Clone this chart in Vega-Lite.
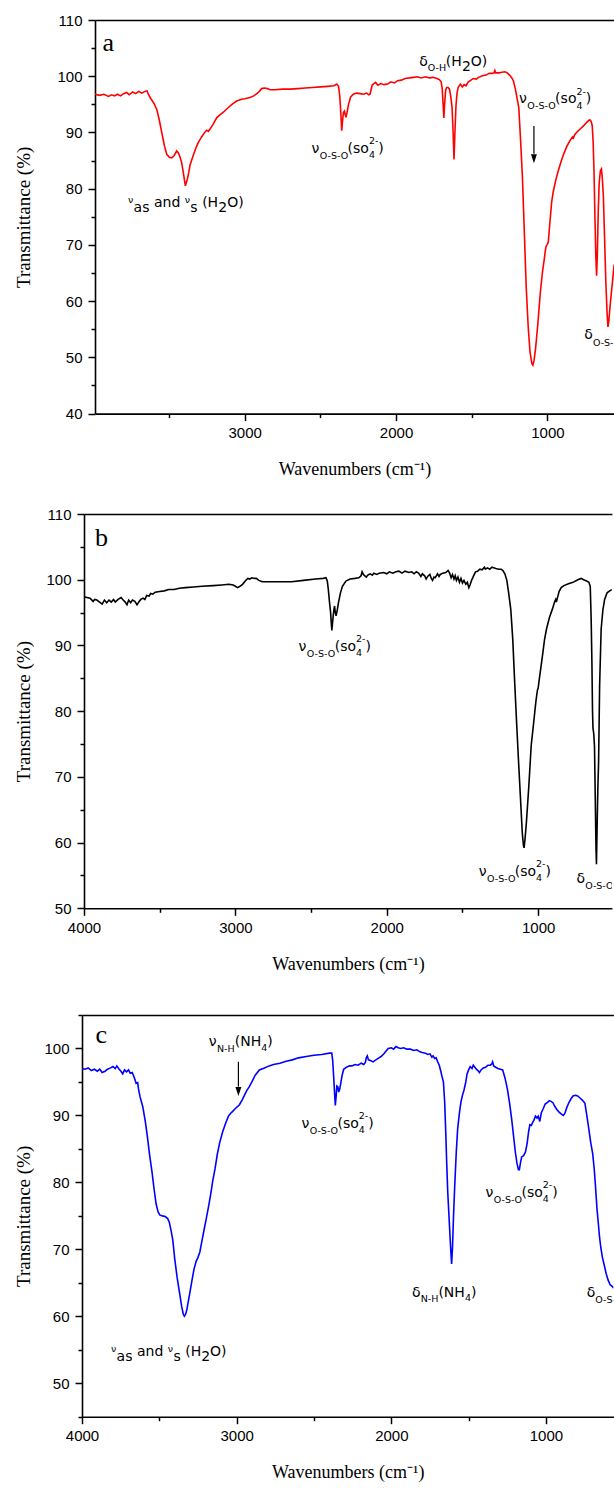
{
"$schema": "https://vega.github.io/schema/vega-lite/v6.json",
"padding": {"left": 7, "top": 13, "right": 0, "bottom": 0},
"background": "white",
"vconcat": [
{"hconcat": [
{"width": 1, "height": 1, "data": {"values": [{"z": 0}]}, "mark": {"type": "point", "opacity": 0}},
{
"width": 519, "height": 393.6,
"layer": [
{"data": {"name": "a"}, "mark": {"type": "line", "color": "#ff0000", "strokeWidth": 1.6, "clip": true},
 "encoding": {
  "x": {"field": "w", "type": "quantitative", "scale": {"domain": [560, 3989], "reverse": true, "nice": false, "zero": false},
        "axis": {"orient": "bottom", "values": [3000, 2000, 1000], "format": "d", "title": "Wavenumbers (cm⁻¹)", "tickSize": 7, "labelPadding": 5, "titlePadding": 20}},
  "y": {"field": "t", "type": "quantitative", "scale": {"domain": [40, 110], "nice": false, "zero": false},
        "axis": {"orient": "left", "values": [40, 50, 60, 70, 80, 90, 100, 110], "title": "Transmittance (%)", "tickSize": 7, "labelPadding": 6, "titlePadding": 23}}}},
{"data": {"name": "a"}, "mark": {"type": "line", "opacity": 0},
 "encoding": {
  "x": {"field": "w", "type": "quantitative", "axis": {"orient": "bottom", "values": [3500, 2500, 1500], "labels": false, "domain": false, "tickSize": 4, "title": null}},
  "y": {"field": "t", "type": "quantitative", "axis": {"orient": "left", "values": [45, 55, 65, 75, 85, 95, 105], "labels": false, "domain": false, "tickSize": 4, "title": null}}}},
{"data": {"name": "a"}, "mark": {"type": "line", "opacity": 0},
 "encoding": {
  "x": {"field": "w", "type": "quantitative", "axis": {"orient": "top", "labels": false, "ticks": false, "title": null}},
  "y": {"field": "t", "type": "quantitative", "axis": null}}},
{"data": {"name": "ann"}, "transform": [{"filter": "datum.p === 'a' && datum.k === 'b'"}],
 "mark": {"type": "text", "align": "left", "baseline": "alphabetic", "font": "DejaVu Sans", "fontSize": 14, "color": "#000000", "clip": true},
 "encoding": {"x": {"field": "w", "type": "quantitative", "axis": null}, "y": {"field": "t", "type": "quantitative", "axis": null}, "text": {"field": "s"}}},
{"data": {"name": "ann"}, "transform": [{"filter": "datum.p === 'a' && datum.k === 's'"}],
 "mark": {"type": "text", "align": "left", "baseline": "alphabetic", "font": "DejaVu Sans", "fontSize": 9.5, "color": "#000000", "clip": true},
 "encoding": {"x": {"field": "w", "type": "quantitative", "axis": null}, "y": {"field": "t", "type": "quantitative", "axis": null}, "text": {"field": "s"}}},
{"data": {"name": "ann"}, "transform": [{"filter": "datum.p === 'a' && datum.k === 'L'"}],
 "mark": {"type": "text", "align": "left", "baseline": "alphabetic", "font": "Liberation Serif", "fontSize": 26, "color": "#000000", "clip": true},
 "encoding": {"x": {"field": "w", "type": "quantitative", "axis": null}, "y": {"field": "t", "type": "quantitative", "axis": null}, "text": {"field": "s"}}},
{"data": {"name": "arrows"}, "transform": [{"filter": "datum.p === 'a'"}],
 "mark": {"type": "rule", "color": "#000000", "strokeWidth": 1.2},
 "encoding": {"x": {"field": "w", "type": "quantitative", "axis": null}, "y": {"field": "t1", "type": "quantitative", "axis": null}, "y2": {"field": "t2"}}},
{"data": {"name": "arrows"}, "transform": [{"filter": "datum.p === 'a'"}],
 "mark": {"type": "point", "shape": "M-0.66,-1L0.66,-1L0,1Z", "filled": true, "color": "#000000", "opacity": 1, "size": 81, "strokeWidth": 0},
 "encoding": {"x": {"field": "w", "type": "quantitative", "axis": null}, "y": {"field": "th", "type": "quantitative", "axis": null}}}
],
"resolve": {"axis": {"x": "independent", "y": "independent"}}
}
], "spacing": 0},
{"hconcat": [
{"width": 1, "height": 1, "data": {"values": [{"z": 0}]}, "mark": {"type": "point", "opacity": 0}},
{
"width": 527.9, "height": 394.3,
"layer": [
{"data": {"name": "b"}, "mark": {"type": "line", "color": "#000000", "strokeWidth": 1.6, "clip": true},
 "encoding": {
  "x": {"field": "w", "type": "quantitative", "scale": {"domain": [513, 4000], "reverse": true, "nice": false, "zero": false},
        "axis": {"orient": "bottom", "values": [4000, 3000, 2000, 1000], "format": "d", "title": "Wavenumbers (cm⁻¹)", "tickSize": 7, "labelPadding": 5, "titlePadding": 20}},
  "y": {"field": "t", "type": "quantitative", "scale": {"domain": [50, 110], "nice": false, "zero": false},
        "axis": {"orient": "left", "values": [50, 60, 70, 80, 90, 100, 110], "title": "Transmittance (%)", "tickSize": 7, "labelPadding": 6, "titlePadding": 12.5}}}},
{"data": {"name": "b"}, "mark": {"type": "line", "opacity": 0},
 "encoding": {
  "x": {"field": "w", "type": "quantitative", "axis": {"orient": "bottom", "values": [3500, 2500, 1500], "labels": false, "domain": false, "tickSize": 4, "title": null}},
  "y": {"field": "t", "type": "quantitative", "axis": {"orient": "left", "values": [55, 65, 75, 85, 95, 105], "labels": false, "domain": false, "tickSize": 4, "title": null}}}},
{"data": {"name": "b"}, "mark": {"type": "line", "opacity": 0},
 "encoding": {
  "x": {"field": "w", "type": "quantitative", "axis": {"orient": "top", "labels": false, "ticks": false, "title": null}},
  "y": {"field": "t", "type": "quantitative", "axis": null}}},
{"data": {"name": "ann"}, "transform": [{"filter": "datum.p === 'b' && datum.k === 'b'"}],
 "mark": {"type": "text", "align": "left", "baseline": "alphabetic", "font": "DejaVu Sans", "fontSize": 14, "color": "#000000", "clip": true},
 "encoding": {"x": {"field": "w", "type": "quantitative", "axis": null}, "y": {"field": "t", "type": "quantitative", "axis": null}, "text": {"field": "s"}}},
{"data": {"name": "ann"}, "transform": [{"filter": "datum.p === 'b' && datum.k === 's'"}],
 "mark": {"type": "text", "align": "left", "baseline": "alphabetic", "font": "DejaVu Sans", "fontSize": 9.5, "color": "#000000", "clip": true},
 "encoding": {"x": {"field": "w", "type": "quantitative", "axis": null}, "y": {"field": "t", "type": "quantitative", "axis": null}, "text": {"field": "s"}}},
{"data": {"name": "ann"}, "transform": [{"filter": "datum.p === 'b' && datum.k === 'L'"}],
 "mark": {"type": "text", "align": "left", "baseline": "alphabetic", "font": "Liberation Serif", "fontSize": 26, "color": "#000000", "clip": true},
 "encoding": {"x": {"field": "w", "type": "quantitative", "axis": null}, "y": {"field": "t", "type": "quantitative", "axis": null}, "text": {"field": "s"}}}
],
"resolve": {"axis": {"x": "independent", "y": "independent"}}
}
], "spacing": 0},
{"hconcat": [
{"width": 1, "height": 1, "data": {"values": [{"z": 0}]}, "mark": {"type": "point", "opacity": 0}},
{
"width": 531.4, "height": 401.7,
"layer": [
{"data": {"name": "c"}, "mark": {"type": "line", "color": "#0000ff", "strokeWidth": 1.6, "clip": true},
 "encoding": {
  "x": {"field": "w", "type": "quantitative", "scale": {"domain": [564, 4000], "reverse": true, "nice": false, "zero": false},
        "axis": {"orient": "bottom", "values": [4000, 3000, 2000, 1000], "format": "d", "title": "Wavenumbers (cm⁻¹)", "tickSize": 7, "labelPadding": 5, "titlePadding": 20}},
  "y": {"field": "t", "type": "quantitative", "scale": {"domain": [45, 105], "nice": false, "zero": false},
        "axis": {"orient": "left", "values": [50, 60, 70, 80, 90, 100], "title": "Transmittance (%)", "tickSize": 7, "labelPadding": 6, "titlePadding": 10.5}}}},
{"data": {"name": "c"}, "mark": {"type": "line", "opacity": 0},
 "encoding": {
  "x": {"field": "w", "type": "quantitative", "axis": {"orient": "bottom", "values": [3500, 2500, 1500], "labels": false, "domain": false, "tickSize": 4, "title": null}},
  "y": {"field": "t", "type": "quantitative", "axis": {"orient": "left", "values": [45, 55, 65, 75, 85, 95, 105], "labels": false, "domain": false, "tickSize": 4, "title": null}}}},
{"data": {"name": "c"}, "mark": {"type": "line", "opacity": 0},
 "encoding": {
  "x": {"field": "w", "type": "quantitative", "axis": {"orient": "top", "labels": false, "ticks": false, "title": ".", "titleColor": "transparent", "titleFontSize": 13, "titlePadding": 0}},
  "y": {"field": "t", "type": "quantitative", "axis": null}}},
{"data": {"name": "ann"}, "transform": [{"filter": "datum.p === 'c' && datum.k === 'b'"}],
 "mark": {"type": "text", "align": "left", "baseline": "alphabetic", "font": "DejaVu Sans", "fontSize": 14, "color": "#000000", "clip": true},
 "encoding": {"x": {"field": "w", "type": "quantitative", "axis": null}, "y": {"field": "t", "type": "quantitative", "axis": null}, "text": {"field": "s"}}},
{"data": {"name": "ann"}, "transform": [{"filter": "datum.p === 'c' && datum.k === 's'"}],
 "mark": {"type": "text", "align": "left", "baseline": "alphabetic", "font": "DejaVu Sans", "fontSize": 9.5, "color": "#000000", "clip": true},
 "encoding": {"x": {"field": "w", "type": "quantitative", "axis": null}, "y": {"field": "t", "type": "quantitative", "axis": null}, "text": {"field": "s"}}},
{"data": {"name": "ann"}, "transform": [{"filter": "datum.p === 'c' && datum.k === 'L'"}],
 "mark": {"type": "text", "align": "left", "baseline": "alphabetic", "font": "Liberation Serif", "fontSize": 26, "color": "#000000", "clip": true},
 "encoding": {"x": {"field": "w", "type": "quantitative", "axis": null}, "y": {"field": "t", "type": "quantitative", "axis": null}, "text": {"field": "s"}}},
{"data": {"name": "arrows"}, "transform": [{"filter": "datum.p === 'c'"}],
 "mark": {"type": "rule", "color": "#000000", "strokeWidth": 1.2},
 "encoding": {"x": {"field": "w", "type": "quantitative", "axis": null}, "y": {"field": "t1", "type": "quantitative", "axis": null}, "y2": {"field": "t2"}}},
{"data": {"name": "arrows"}, "transform": [{"filter": "datum.p === 'c'"}],
 "mark": {"type": "point", "shape": "M-0.66,-1L0.66,-1L0,1Z", "filled": true, "color": "#000000", "opacity": 1, "size": 81, "strokeWidth": 0},
 "encoding": {"x": {"field": "w", "type": "quantitative", "axis": null}, "y": {"field": "th", "type": "quantitative", "axis": null}}}
],
"resolve": {"axis": {"x": "independent", "y": "independent"}}
}
], "spacing": 0}
],
"spacing": 28,
"config": {
 "view": {"stroke": null},
 "axis": {"domainColor": "#000000", "domainWidth": 1.6, "tickColor": "#000000", "tickWidth": 1.5, "labelColor": "#000000", "labelFont": "Liberation Sans", "labelFontSize": 15, "titleColor": "#000000", "titleFont": "Liberation Serif", "titleFontWeight": "normal", "grid": false, "labelFlush": false, "labelOverlap": false},
 "axisX": {"titleFontSize": 18},
 "axisY": {"titleFontSize": 19}
},
"datasets": {
"arrows": [
 {"p": "a", "w": 1089, "t1": 91.15, "t2": 86.2, "th": 85.31},
 {"p": "c", "w": 2988.7, "t1": 98.02, "t2": 94.3, "th": 93.57}
],
"ann": [
 {"p": "a", "w": 3939, "t": 104.5, "s": "a", "k": "L"},
 {"p": "a", "w": 3771, "t": 77.4, "s": "ν", "k": "s"},
 {"p": "a", "w": 3734, "t": 75.89, "s": "as", "k": "b"},
 {"p": "a", "w": 3599, "t": 76.81, "s": "and", "k": "b"},
 {"p": "a", "w": 3396, "t": 77.4, "s": "ν", "k": "s"},
 {"p": "a", "w": 3359, "t": 75.89, "s": "s", "k": "b"},
 {"p": "a", "w": 3281, "t": 76.81, "s": "(H", "k": "b"},
 {"p": "a", "w": 3175, "t": 75.89, "s": "2", "k": "b"},
 {"p": "a", "w": 3116, "t": 76.81, "s": "O)", "k": "b"},
 {"p": "a", "w": 2559, "t": 86.42, "s": "ν", "k": "b"},
 {"p": "a", "w": 2504, "t": 85.35, "s": "O-S-O", "k": "s"},
 {"p": "a", "w": 2320, "t": 86.42, "s": "(so", "k": "b"},
 {"p": "a", "w": 2179, "t": 85.49, "s": "4", "k": "s"},
 {"p": "a", "w": 2179, "t": 87.98, "s": "2-", "k": "s"},
 {"p": "a", "w": 2117, "t": 86.42, "s": ")", "k": "b"},
 {"p": "a", "w": 1846, "t": 101.82, "s": "δ", "k": "b"},
 {"p": "a", "w": 1790, "t": 100.93, "s": "O-H", "k": "s"},
 {"p": "a", "w": 1671, "t": 101.82, "s": "(H", "k": "b"},
 {"p": "a", "w": 1565, "t": 100.93, "s": "2", "k": "b"},
 {"p": "a", "w": 1506, "t": 101.82, "s": "O)", "k": "b"},
 {"p": "a", "w": 1188, "t": 95.19, "s": "ν", "k": "b"},
 {"p": "a", "w": 1133, "t": 94.12, "s": "O-S-O", "k": "s"},
 {"p": "a", "w": 949, "t": 95.19, "s": "(so", "k": "b"},
 {"p": "a", "w": 808.5, "t": 94.26, "s": "4", "k": "s"},
 {"p": "a", "w": 808.5, "t": 96.75, "s": "2-", "k": "s"},
 {"p": "a", "w": 746, "t": 95.19, "s": ")", "k": "b"},
 {"p": "a", "w": 756, "t": 53.21, "s": "δ", "k": "b"},
 {"p": "a", "w": 699.4, "t": 52.06, "s": "O-S-O", "k": "s"},
 {"p": "b", "w": 3928, "t": 105.13, "s": "b", "k": "L"},
 {"p": "b", "w": 2583, "t": 89.15, "s": "ν", "k": "b"},
 {"p": "b", "w": 2528, "t": 88.24, "s": "O-S-O", "k": "s"},
 {"p": "b", "w": 2344, "t": 89.15, "s": "(so", "k": "b"},
 {"p": "b", "w": 2203.4, "t": 88.36, "s": "4", "k": "s"},
 {"p": "b", "w": 2203.4, "t": 90.49, "s": "2-", "k": "s"},
 {"p": "b", "w": 2141, "t": 89.15, "s": ")", "k": "b"},
 {"p": "b", "w": 1393, "t": 54.91, "s": "ν", "k": "b"},
 {"p": "b", "w": 1338, "t": 54.0, "s": "O-S-O", "k": "s"},
 {"p": "b", "w": 1154.6, "t": 54.91, "s": "(so", "k": "b"},
 {"p": "b", "w": 1013.9, "t": 54.12, "s": "4", "k": "s"},
 {"p": "b", "w": 1013.9, "t": 56.25, "s": "2-", "k": "s"},
 {"p": "b", "w": 951, "t": 54.91, "s": ")", "k": "b"},
 {"p": "b", "w": 746.4, "t": 53.91, "s": "δ", "k": "b"},
 {"p": "b", "w": 689.6, "t": 52.95, "s": "O-S-O", "k": "s"},
 {"p": "c", "w": 3913, "t": 100.77, "s": "c", "k": "L"},
 {"p": "c", "w": 3180.8, "t": 100.37, "s": "ν", "k": "b"},
 {"p": "c", "w": 3127, "t": 99.47, "s": "N-H", "k": "s"},
 {"p": "c", "w": 3012.6, "t": 100.37, "s": "(NH", "k": "b"},
 {"p": "c", "w": 2841.3, "t": 99.62, "s": "4", "k": "s"},
 {"p": "c", "w": 2802.5, "t": 100.37, "s": ")", "k": "b"},
 {"p": "c", "w": 2581.4, "t": 88.15, "s": "ν", "k": "b"},
 {"p": "c", "w": 2527.7, "t": 87.25, "s": "O-S-O", "k": "s"},
 {"p": "c", "w": 2347.9, "t": 88.15, "s": "(so", "k": "b"},
 {"p": "c", "w": 2210.2, "t": 87.37, "s": "4", "k": "s"},
 {"p": "c", "w": 2210.2, "t": 89.47, "s": "2-", "k": "s"},
 {"p": "c", "w": 2148.8, "t": 88.15, "s": ")", "k": "b"},
 {"p": "c", "w": 1865.6, "t": 62.92, "s": "δ", "k": "b"},
 {"p": "c", "w": 1810, "t": 62.18, "s": "N-H", "k": "s"},
 {"p": "c", "w": 1695.5, "t": 62.92, "s": "(NH", "k": "b"},
 {"p": "c", "w": 1524.2, "t": 62.28, "s": "4", "k": "s"},
 {"p": "c", "w": 1485.4, "t": 62.92, "s": ")", "k": "b"},
 {"p": "c", "w": 1391.6, "t": 77.86, "s": "ν", "k": "b"},
 {"p": "c", "w": 1337.9, "t": 76.96, "s": "O-S-O", "k": "s"},
 {"p": "c", "w": 1158.2, "t": 77.86, "s": "(so", "k": "b"},
 {"p": "c", "w": 1020.5, "t": 77.07, "s": "4", "k": "s"},
 {"p": "c", "w": 1020.5, "t": 79.16, "s": "2-", "k": "s"},
 {"p": "c", "w": 959.1, "t": 77.86, "s": ")", "k": "b"},
 {"p": "c", "w": 3812.5, "t": 54.66, "s": "ν", "k": "s"},
 {"p": "c", "w": 3776.3, "t": 53.32, "s": "as", "k": "b"},
 {"p": "c", "w": 3644.4, "t": 54.06, "s": "and", "k": "b"},
 {"p": "c", "w": 3445.2, "t": 54.66, "s": "ν", "k": "s"},
 {"p": "c", "w": 3409, "t": 53.32, "s": "s", "k": "b"},
 {"p": "c", "w": 3332.7, "t": 54.06, "s": "(H", "k": "b"},
 {"p": "c", "w": 3229.3, "t": 53.32, "s": "2", "k": "b"},
 {"p": "c", "w": 3171.7, "t": 54.06, "s": "O)", "k": "b"},
 {"p": "c", "w": 736.6, "t": 62.83, "s": "δ", "k": "b"},
 {"p": "c", "w": 681, "t": 61.94, "s": "O-S-O", "k": "s"}
],
"a": [
{"w":3989,"t":96.8},{"w":3960,"t":96.6},{"w":3930,"t":96.8},{"w":3900,"t":96.4},{"w":3880,"t":96.7},{"w":3860,"t":96.5},{"w":3841,"t":96.8},{"w":3820,"t":96.5},{"w":3800,"t":96.9},{"w":3780,"t":97.1},{"w":3763,"t":96.7},{"w":3740,"t":97.2},{"w":3720,"t":96.9},{"w":3700,"t":97.3},{"w":3680,"t":97.0},{"w":3660,"t":97.3},{"w":3645,"t":97.4},{"w":3637,"t":96.8},{"w":3620,"t":96.0},{"w":3600,"t":95.2},{"w":3581,"t":94.1},{"w":3565,"t":92.3},{"w":3548,"t":90.0},{"w":3530,"t":87.6},{"w":3515,"t":86.1},{"w":3498,"t":85.6},{"w":3482,"t":85.5},{"w":3466,"t":85.9},{"w":3449,"t":86.7},{"w":3437,"t":86.3},{"w":3427,"t":85.6},{"w":3416,"t":84.6},{"w":3404,"t":82.6},{"w":3392,"t":80.5},{"w":3380,"t":81.6},{"w":3370,"t":82.8},{"w":3361,"t":84.2},{"w":3340,"t":85.9},{"w":3320,"t":87.4},{"w":3307,"t":88.2},{"w":3285,"t":89.2},{"w":3262,"t":90.1},{"w":3251,"t":90.4},{"w":3240,"t":90.2},{"w":3229,"t":90.6},{"w":3210,"t":91.4},{"w":3185,"t":92.6},{"w":3160,"t":93.2},{"w":3141,"t":93.6},{"w":3110,"t":94.4},{"w":3080,"t":95.1},{"w":3053,"t":95.6},{"w":3020,"t":95.9},{"w":3000,"t":96.0},{"w":2965,"t":96.2},{"w":2940,"t":96.5},{"w":2915,"t":97.0},{"w":2900,"t":97.4},{"w":2888,"t":97.8},{"w":2870,"t":97.9},{"w":2850,"t":97.8},{"w":2833,"t":97.6},{"w":2800,"t":97.6},{"w":2750,"t":97.7},{"w":2700,"t":97.7},{"w":2650,"t":97.8},{"w":2600,"t":97.9},{"w":2550,"t":98.0},{"w":2500,"t":98.1},{"w":2450,"t":98.2},{"w":2410,"t":98.3},{"w":2392,"t":98.6},{"w":2380,"t":98.2},{"w":2372,"t":96.5},{"w":2366,"t":94.0},{"w":2359,"t":90.3},{"w":2352,"t":92.5},{"w":2347,"t":93.6},{"w":2341,"t":93.8},{"w":2336,"t":93.2},{"w":2331,"t":92.7},{"w":2322,"t":93.8},{"w":2314,"t":95.0},{"w":2300,"t":96.3},{"w":2282,"t":96.8},{"w":2260,"t":97.0},{"w":2237,"t":96.9},{"w":2215,"t":96.8},{"w":2195,"t":97.0},{"w":2180,"t":96.7},{"w":2172,"t":96.8},{"w":2165,"t":97.6},{"w":2158,"t":98.4},{"w":2150,"t":98.6},{"w":2135,"t":98.9},{"w":2120,"t":98.4},{"w":2100,"t":98.7},{"w":2080,"t":98.5},{"w":2056,"t":98.6},{"w":2035,"t":99.0},{"w":2010,"t":98.8},{"w":1990,"t":99.2},{"w":1965,"t":99.3},{"w":1940,"t":99.6},{"w":1910,"t":99.7},{"w":1885,"t":99.8},{"w":1860,"t":99.9},{"w":1835,"t":99.7},{"w":1805,"t":99.9},{"w":1780,"t":99.7},{"w":1755,"t":99.8},{"w":1730,"t":99.6},{"w":1714,"t":99.4},{"w":1702,"t":99.0},{"w":1695,"t":97.8},{"w":1689,"t":95.0},{"w":1684,"t":92.6},{"w":1678,"t":95.5},{"w":1672,"t":97.6},{"w":1666,"t":98.0},{"w":1656,"t":98.0},{"w":1647,"t":97.7},{"w":1638,"t":96.3},{"w":1630,"t":94.5},{"w":1623,"t":90.0},{"w":1617,"t":85.2},{"w":1611,"t":90.0},{"w":1604,"t":94.8},{"w":1597,"t":97.0},{"w":1590,"t":98.0},{"w":1575,"t":98.6},{"w":1562,"t":98.1},{"w":1550,"t":98.5},{"w":1538,"t":98.3},{"w":1522,"t":99.0},{"w":1505,"t":99.3},{"w":1490,"t":99.6},{"w":1470,"t":99.5},{"w":1455,"t":99.8},{"w":1430,"t":100.1},{"w":1405,"t":100.2},{"w":1385,"t":100.5},{"w":1365,"t":100.5},{"w":1352,"t":100.6},{"w":1347,"t":101.0},{"w":1342,"t":100.6},{"w":1320,"t":100.6},{"w":1300,"t":100.7},{"w":1280,"t":100.8},{"w":1265,"t":100.6},{"w":1250,"t":100.2},{"w":1235,"t":99.7},{"w":1225,"t":99.2},{"w":1212,"t":97.8},{"w":1200,"t":96.0},{"w":1189,"t":94.4},{"w":1177,"t":88.5},{"w":1165,"t":82.0},{"w":1152,"t":72.0},{"w":1140,"t":62.5},{"w":1127,"t":55.5},{"w":1115,"t":51.0},{"w":1103,"t":48.9},{"w":1096,"t":48.6},{"w":1088,"t":49.5},{"w":1078,"t":51.6},{"w":1063,"t":56.0},{"w":1047,"t":61.5},{"w":1032,"t":65.3},{"w":1020,"t":67.6},{"w":1012,"t":69.3},{"w":1008,"t":69.8},{"w":1000,"t":70.1},{"w":994,"t":70.6},{"w":984,"t":73.8},{"w":972,"t":77.6},{"w":961,"t":79.5},{"w":945,"t":81.5},{"w":930,"t":83.0},{"w":910,"t":84.8},{"w":892,"t":86.2},{"w":870,"t":87.6},{"w":850,"t":88.6},{"w":835,"t":89.2},{"w":828,"t":89.0},{"w":820,"t":89.6},{"w":800,"t":90.2},{"w":780,"t":90.7},{"w":760,"t":91.2},{"w":740,"t":91.8},{"w":725,"t":92.2},{"w":717,"t":92.2},{"w":710,"t":91.9},{"w":704,"t":91.2},{"w":698,"t":88.5},{"w":692,"t":83.0},{"w":686,"t":75.0},{"w":680,"t":68.0},{"w":675,"t":64.5},{"w":670,"t":68.5},{"w":664,"t":76.0},{"w":658,"t":81.0},{"w":650,"t":83.2},{"w":643,"t":83.5},{"w":637,"t":81.8},{"w":630,"t":78.5},{"w":622,"t":71.0},{"w":614,"t":63.5},{"w":606,"t":58.0},{"w":600,"t":55.4},{"w":594,"t":56.5},{"w":587,"t":58.8},{"w":580,"t":60.8},{"w":570,"t":63.5},{"w":559,"t":66.5}
],
"b": [
{"w":4000,"t":97.4},{"w":3980,"t":97.3},{"w":3960,"t":97.2},{"w":3940,"t":96.7},{"w":3930,"t":97.0},{"w":3915,"t":96.9},{"w":3897,"t":96.6},{"w":3880,"t":96.3},{"w":3865,"t":96.9},{"w":3850,"t":96.5},{"w":3835,"t":96.9},{"w":3820,"t":96.6},{"w":3805,"t":97.0},{"w":3793,"t":96.6},{"w":3775,"t":97.0},{"w":3755,"t":97.3},{"w":3741,"t":96.9},{"w":3728,"t":96.6},{"w":3716,"t":96.2},{"w":3705,"t":96.9},{"w":3692,"t":96.5},{"w":3680,"t":96.9},{"w":3664,"t":96.7},{"w":3650,"t":96.2},{"w":3638,"t":96.6},{"w":3625,"t":97.0},{"w":3610,"t":97.2},{"w":3598,"t":97.0},{"w":3586,"t":97.6},{"w":3570,"t":97.5},{"w":3560,"t":97.9},{"w":3545,"t":97.8},{"w":3530,"t":98.1},{"w":3500,"t":98.2},{"w":3470,"t":98.3},{"w":3440,"t":98.5},{"w":3405,"t":98.5},{"w":3370,"t":98.7},{"w":3330,"t":98.8},{"w":3276,"t":98.9},{"w":3220,"t":99.0},{"w":3147,"t":99.1},{"w":3090,"t":99.2},{"w":3043,"t":99.3},{"w":3015,"t":99.2},{"w":3000,"t":99.0},{"w":2986,"t":98.8},{"w":2970,"t":99.0},{"w":2953,"t":99.3},{"w":2935,"t":99.8},{"w":2918,"t":100.2},{"w":2905,"t":100.1},{"w":2890,"t":100.3},{"w":2875,"t":100.2},{"w":2862,"t":100.2},{"w":2845,"t":99.9},{"w":2823,"t":99.7},{"w":2750,"t":99.7},{"w":2629,"t":99.7},{"w":2550,"t":99.9},{"w":2470,"t":100.1},{"w":2420,"t":100.2},{"w":2402,"t":100.3},{"w":2393,"t":99.8},{"w":2386,"t":98.5},{"w":2378,"t":96.5},{"w":2371,"t":95.0},{"w":2366,"t":93.2},{"w":2363,"t":92.3},{"w":2358,"t":93.5},{"w":2353,"t":94.7},{"w":2349,"t":95.5},{"w":2345,"t":96.0},{"w":2340,"t":95.0},{"w":2335,"t":94.5},{"w":2327,"t":95.4},{"w":2319,"t":96.5},{"w":2306,"t":98.0},{"w":2293,"t":99.0},{"w":2270,"t":99.8},{"w":2242,"t":100.1},{"w":2210,"t":100.2},{"w":2185,"t":100.3},{"w":2170,"t":100.6},{"w":2163,"t":101.2},{"w":2155,"t":100.8},{"w":2145,"t":100.6},{"w":2135,"t":100.4},{"w":2125,"t":100.7},{"w":2110,"t":100.9},{"w":2095,"t":100.7},{"w":2086,"t":101.0},{"w":2065,"t":100.8},{"w":2050,"t":101.0},{"w":2020,"t":101.1},{"w":2000,"t":100.9},{"w":1983,"t":101.2},{"w":1960,"t":101.0},{"w":1940,"t":101.2},{"w":1920,"t":101.3},{"w":1900,"t":101.0},{"w":1880,"t":101.3},{"w":1854,"t":101.1},{"w":1835,"t":101.2},{"w":1820,"t":100.9},{"w":1805,"t":101.2},{"w":1790,"t":101.0},{"w":1775,"t":100.5},{"w":1765,"t":100.9},{"w":1750,"t":100.6},{"w":1740,"t":100.1},{"w":1730,"t":100.5},{"w":1715,"t":100.8},{"w":1706,"t":100.2},{"w":1698,"t":99.9},{"w":1688,"t":100.4},{"w":1680,"t":100.3},{"w":1665,"t":100.9},{"w":1655,"t":100.5},{"w":1647,"t":100.8},{"w":1630,"t":101.0},{"w":1610,"t":101.1},{"w":1595,"t":101.4},{"w":1585,"t":101.0},{"w":1575,"t":100.3},{"w":1566,"t":100.8},{"w":1556,"t":100.1},{"w":1548,"t":100.6},{"w":1540,"t":99.9},{"w":1530,"t":100.4},{"w":1520,"t":99.6},{"w":1510,"t":100.2},{"w":1500,"t":99.5},{"w":1490,"t":99.9},{"w":1478,"t":99.3},{"w":1468,"t":99.6},{"w":1458,"t":98.8},{"w":1450,"t":99.2},{"w":1440,"t":99.9},{"w":1428,"t":100.5},{"w":1414,"t":101.2},{"w":1400,"t":101.3},{"w":1385,"t":101.6},{"w":1370,"t":101.5},{"w":1355,"t":101.9},{"w":1349,"t":101.6},{"w":1335,"t":101.8},{"w":1320,"t":101.6},{"w":1305,"t":101.9},{"w":1290,"t":101.8},{"w":1280,"t":101.7},{"w":1260,"t":101.6},{"w":1245,"t":101.6},{"w":1233,"t":101.4},{"w":1220,"t":100.9},{"w":1207,"t":99.9},{"w":1195,"t":98.0},{"w":1181,"t":95.5},{"w":1168,"t":91.0},{"w":1156,"t":84.8},{"w":1143,"t":78.5},{"w":1130,"t":72.5},{"w":1117,"t":66.8},{"w":1105,"t":61.5},{"w":1097,"t":59.5},{"w":1093,"t":59.2},{"w":1087,"t":60.5},{"w":1078,"t":63.0},{"w":1062,"t":68.5},{"w":1046,"t":74.8},{"w":1030,"t":78.2},{"w":1015,"t":81.5},{"w":1005,"t":83.2},{"w":1000,"t":83.5},{"w":993,"t":84.8},{"w":980,"t":87.0},{"w":970,"t":88.7},{"w":958,"t":90.9},{"w":945,"t":92.5},{"w":925,"t":94.3},{"w":905,"t":95.6},{"w":892,"t":96.6},{"w":884,"t":97.0},{"w":880,"t":96.6},{"w":873,"t":97.2},{"w":862,"t":98.2},{"w":848,"t":98.8},{"w":830,"t":99.1},{"w":800,"t":99.4},{"w":770,"t":99.6},{"w":738,"t":100.0},{"w":716,"t":100.2},{"w":700,"t":100.0},{"w":680,"t":99.8},{"w":665,"t":99.6},{"w":656,"t":99.0},{"w":650,"t":94.0},{"w":645,"t":87.4},{"w":641,"t":80.0},{"w":638,"t":77.4},{"w":633,"t":76.6},{"w":628,"t":74.7},{"w":623,"t":67.0},{"w":618,"t":59.0},{"w":615,"t":56.7},{"w":611,"t":62.0},{"w":606,"t":68.0},{"w":601,"t":72.2},{"w":594,"t":84.0},{"w":584,"t":92.5},{"w":572,"t":95.5},{"w":561,"t":97.0},{"w":545,"t":98.0},{"w":528,"t":98.3},{"w":513,"t":98.5}
],
"c": [
{"w":4000,"t":97.0},{"w":3980,"t":96.9},{"w":3960,"t":97.1},{"w":3940,"t":96.7},{"w":3920,"t":96.9},{"w":3901,"t":96.6},{"w":3885,"t":96.9},{"w":3870,"t":96.4},{"w":3851,"t":96.6},{"w":3835,"t":96.9},{"w":3815,"t":97.1},{"w":3800,"t":97.3},{"w":3785,"t":97.0},{"w":3775,"t":97.4},{"w":3760,"t":96.9},{"w":3748,"t":96.6},{"w":3737,"t":96.2},{"w":3725,"t":96.8},{"w":3712,"t":96.5},{"w":3699,"t":96.8},{"w":3688,"t":96.3},{"w":3675,"t":96.4},{"w":3661,"t":95.6},{"w":3650,"t":94.8},{"w":3640,"t":94.9},{"w":3635,"t":94.0},{"w":3625,"t":92.8},{"w":3607,"t":91.3},{"w":3590,"t":89.0},{"w":3577,"t":86.8},{"w":3564,"t":84.3},{"w":3547,"t":81.5},{"w":3535,"t":79.2},{"w":3521,"t":76.8},{"w":3508,"t":75.6},{"w":3496,"t":75.1},{"w":3480,"t":75.0},{"w":3462,"t":74.9},{"w":3446,"t":74.6},{"w":3435,"t":74.0},{"w":3424,"t":72.8},{"w":3413,"t":71.4},{"w":3400,"t":68.5},{"w":3385,"t":65.8},{"w":3370,"t":63.6},{"w":3355,"t":61.4},{"w":3345,"t":60.3},{"w":3338,"t":60.0},{"w":3330,"t":60.3},{"w":3322,"t":61.0},{"w":3305,"t":63.2},{"w":3290,"t":65.2},{"w":3276,"t":67.0},{"w":3262,"t":68.2},{"w":3250,"t":68.8},{"w":3238,"t":69.6},{"w":3225,"t":71.2},{"w":3210,"t":73.0},{"w":3198,"t":74.4},{"w":3180,"t":76.6},{"w":3165,"t":78.6},{"w":3155,"t":80.2},{"w":3140,"t":82.0},{"w":3125,"t":84.2},{"w":3110,"t":85.9},{"w":3090,"t":87.6},{"w":3070,"t":88.9},{"w":3053,"t":89.9},{"w":3040,"t":90.3},{"w":3026,"t":90.6},{"w":3010,"t":91.0},{"w":2995,"t":91.3},{"w":2982,"t":91.6},{"w":2965,"t":92.3},{"w":2950,"t":93.0},{"w":2935,"t":93.7},{"w":2918,"t":94.3},{"w":2900,"t":95.1},{"w":2880,"t":96.0},{"w":2853,"t":96.8},{"w":2820,"t":97.1},{"w":2790,"t":97.4},{"w":2762,"t":97.6},{"w":2720,"t":97.8},{"w":2680,"t":98.1},{"w":2640,"t":98.3},{"w":2600,"t":98.6},{"w":2550,"t":98.8},{"w":2500,"t":99.0},{"w":2450,"t":99.1},{"w":2400,"t":99.3},{"w":2385,"t":99.3},{"w":2379,"t":98.2},{"w":2372,"t":95.5},{"w":2366,"t":93.0},{"w":2362,"t":91.5},{"w":2357,"t":92.8},{"w":2352,"t":94.4},{"w":2346,"t":94.3},{"w":2340,"t":93.5},{"w":2334,"t":93.9},{"w":2327,"t":94.8},{"w":2318,"t":96.0},{"w":2308,"t":96.9},{"w":2290,"t":97.2},{"w":2270,"t":97.4},{"w":2255,"t":97.4},{"w":2235,"t":97.6},{"w":2215,"t":97.5},{"w":2195,"t":97.8},{"w":2178,"t":97.6},{"w":2168,"t":97.9},{"w":2162,"t":98.6},{"w":2155,"t":98.9},{"w":2148,"t":98.3},{"w":2135,"t":98.2},{"w":2118,"t":98.0},{"w":2100,"t":98.3},{"w":2080,"t":98.6},{"w":2066,"t":98.8},{"w":2048,"t":99.2},{"w":2035,"t":99.6},{"w":2020,"t":100.0},{"w":2000,"t":100.1},{"w":1985,"t":99.9},{"w":1970,"t":100.3},{"w":1955,"t":100.1},{"w":1940,"t":100.0},{"w":1920,"t":100.1},{"w":1900,"t":99.9},{"w":1876,"t":99.9},{"w":1855,"t":99.7},{"w":1835,"t":99.8},{"w":1815,"t":99.5},{"w":1800,"t":99.4},{"w":1780,"t":99.3},{"w":1765,"t":99.1},{"w":1750,"t":99.2},{"w":1738,"t":98.7},{"w":1730,"t":98.9},{"w":1720,"t":98.5},{"w":1710,"t":98.6},{"w":1700,"t":98.0},{"w":1690,"t":97.5},{"w":1680,"t":96.6},{"w":1672,"t":95.8},{"w":1663,"t":95.0},{"w":1655,"t":92.0},{"w":1648,"t":87.5},{"w":1642,"t":83.0},{"w":1635,"t":78.5},{"w":1625,"t":74.0},{"w":1616,"t":70.0},{"w":1610,"t":67.8},{"w":1604,"t":70.5},{"w":1598,"t":74.8},{"w":1590,"t":79.5},{"w":1580,"t":84.5},{"w":1571,"t":88.0},{"w":1560,"t":90.3},{"w":1550,"t":92.0},{"w":1540,"t":93.0},{"w":1530,"t":93.8},{"w":1520,"t":94.8},{"w":1510,"t":96.2},{"w":1500,"t":96.8},{"w":1490,"t":97.3},{"w":1478,"t":97.0},{"w":1470,"t":97.5},{"w":1460,"t":97.2},{"w":1450,"t":96.9},{"w":1440,"t":96.7},{"w":1430,"t":96.4},{"w":1420,"t":96.8},{"w":1405,"t":97.1},{"w":1390,"t":97.2},{"w":1375,"t":97.5},{"w":1360,"t":97.5},{"w":1350,"t":97.7},{"w":1345,"t":98.0},{"w":1338,"t":97.4},{"w":1325,"t":97.2},{"w":1310,"t":97.0},{"w":1295,"t":96.9},{"w":1280,"t":96.8},{"w":1265,"t":95.6},{"w":1250,"t":94.0},{"w":1235,"t":91.8},{"w":1222,"t":89.5},{"w":1210,"t":87.0},{"w":1198,"t":84.5},{"w":1187,"t":82.8},{"w":1178,"t":81.9},{"w":1172,"t":81.9},{"w":1165,"t":82.9},{"w":1157,"t":83.8},{"w":1145,"t":84.0},{"w":1133,"t":84.5},{"w":1122,"t":85.8},{"w":1112,"t":87.6},{"w":1104,"t":88.6},{"w":1095,"t":88.5},{"w":1085,"t":89.0},{"w":1078,"t":89.3},{"w":1068,"t":89.9},{"w":1058,"t":89.6},{"w":1050,"t":89.9},{"w":1040,"t":89.1},{"w":1030,"t":90.4},{"w":1018,"t":91.0},{"w":1005,"t":91.7},{"w":992,"t":91.9},{"w":978,"t":92.2},{"w":967,"t":92.1},{"w":955,"t":91.9},{"w":944,"t":91.4},{"w":930,"t":90.9},{"w":915,"t":90.5},{"w":900,"t":90.2},{"w":888,"t":90.0},{"w":878,"t":90.3},{"w":865,"t":91.2},{"w":850,"t":92.0},{"w":835,"t":92.6},{"w":825,"t":92.9},{"w":810,"t":93.0},{"w":795,"t":92.9},{"w":780,"t":92.6},{"w":765,"t":92.3},{"w":748,"t":91.8},{"w":736,"t":90.0},{"w":723,"t":88.0},{"w":711,"t":86.0},{"w":698,"t":84.3},{"w":688,"t":82.0},{"w":680,"t":79.5},{"w":670,"t":76.0},{"w":662,"t":74.0},{"w":654,"t":71.9},{"w":645,"t":70.2},{"w":635,"t":68.8},{"w":625,"t":67.8},{"w":611,"t":66.4},{"w":598,"t":65.4},{"w":585,"t":64.7},{"w":568,"t":64.4},{"w":564,"t":64.2}
]
}
}
